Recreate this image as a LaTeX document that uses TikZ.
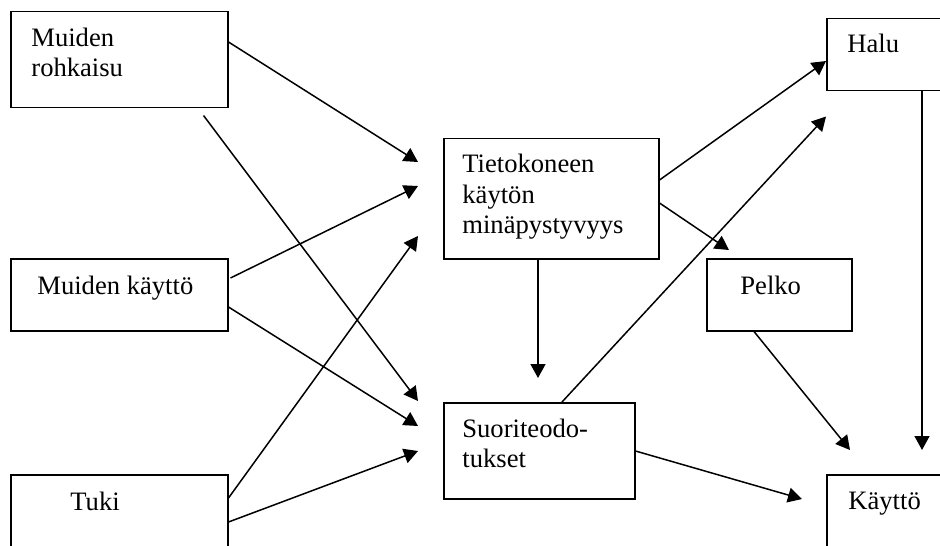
\documentclass[tikz,border=0pt]{standalone}
\usepackage{fontspec}
\setmainfont{Liberation Serif}
\usetikzlibrary{arrows.meta,calc}
\begin{document}
\begin{tikzpicture}[x=0.5pt,y=-0.5pt,
  box/.style={draw=black,line width=0.75pt,rectangle,inner sep=0pt,anchor=north west},
  txt/.style={anchor=base west,inner sep=0pt,font=\fontsize{13.3pt}{15pt}\selectfont},
  arr/.style={draw=black,line width=0.75pt,-{Triangle[length=7pt,width=7.5pt]}},
  ln/.style={draw=black,line width=0.75pt}]
\useasboundingbox[fill=white] (0,0) rectangle (940,545);
\clip (0,0) rectangle (940,545);
% boxes
\node[box,minimum width=108.5pt,minimum height=48pt] (r) at (10,11) {};
\node[box,minimum width=108.5pt,minimum height=36pt] (k) at (10,258) {};
\node[box,minimum width=108.5pt,minimum height=48pt] (t) at (10,474) {};
\node[box,minimum width=107.5pt,minimum height=60pt] (m) at (443,138) {};
\node[box,minimum width=95.5pt,minimum height=48pt] (s) at (443,402) {};
\node[box,minimum width=80pt,minimum height=36pt] (h) at (826,18) {};
\node[box,minimum width=72.5pt,minimum height=36pt] (p) at (706,258) {};
\node[box,minimum width=80pt,minimum height=48pt] (u) at (826,474) {};
% texts
\node[txt] (r1) at (31,47) {Muiden};
\node[txt] (r2) at (31,77) {rohkaisu};
\node[txt] (k1) at (37,294) {Muiden käyttö};
\node[txt] (t1) at (70,510) {Tuki};
\node[txt] (m1) at (462,173) {Tietokoneen};
\node[txt] (m2) at (462,203) {käytön};
\node[txt] (m3) at (462,233) {minäpystyvyys};
\node[txt] (s1) at (462,437) {Suoriteodo-};
\node[txt] (s2) at (462,467) {tukset};
\node[txt] (h1) at (847,53) {Halu};
\node[txt] (p1) at (740,294) {Pelko};
\node[txt] (u1) at (848,509) {Käyttö};
% connectors
\draw[arr] ($(r.north east)+(0,31)$) -- ($(m.north west)+(-25,24)$);
\draw[arr] ($(r.south east)+(-25,7)$) -- ($(s.north west)+(-25,-1)$);
\draw[arr] ($(k.north east)+(2,20)$) -- ($(m.north west)+(-25,48)$);
\draw[arr] ($(k.north east)+(0,49)$) -- ($(s.north west)+(-25,24)$);
\draw[arr] ($(t.north east)+(0,24)$) -- ($(m.north west)+(-25,98)$);
\draw[arr] ($(t.north east)+(0,48)$) -- ($(s.north west)+(-25,49)$);
\draw[arr] ($(m.north east)+(0,42)$) -- ($(h.north west)+(0,43)$);
\draw[arr] ($(m.north east)+(0,65)$) -- ($(p.north west)+(23,-8)$);
\draw[arr] ($(m.south west)+(95,0)$) -- ($(s.north west)+(95,-24)$);
\draw[arr] ($(s.north west)+(119,0)$) -- ($(h.south west)+(0,25)$);
\draw[arr] ($(p.south west)+(48,0)$) -- ($(u.north west)+(24,-24)$);
\draw[arr] ($(h.south west)+(96,0)$) -- ($(u.north west)+(96,-24)$);
\draw[arr] ($(s.north east)+(0,49)$) -- ($(u.north west)+(-24,25)$);
\end{tikzpicture}
\end{document}
